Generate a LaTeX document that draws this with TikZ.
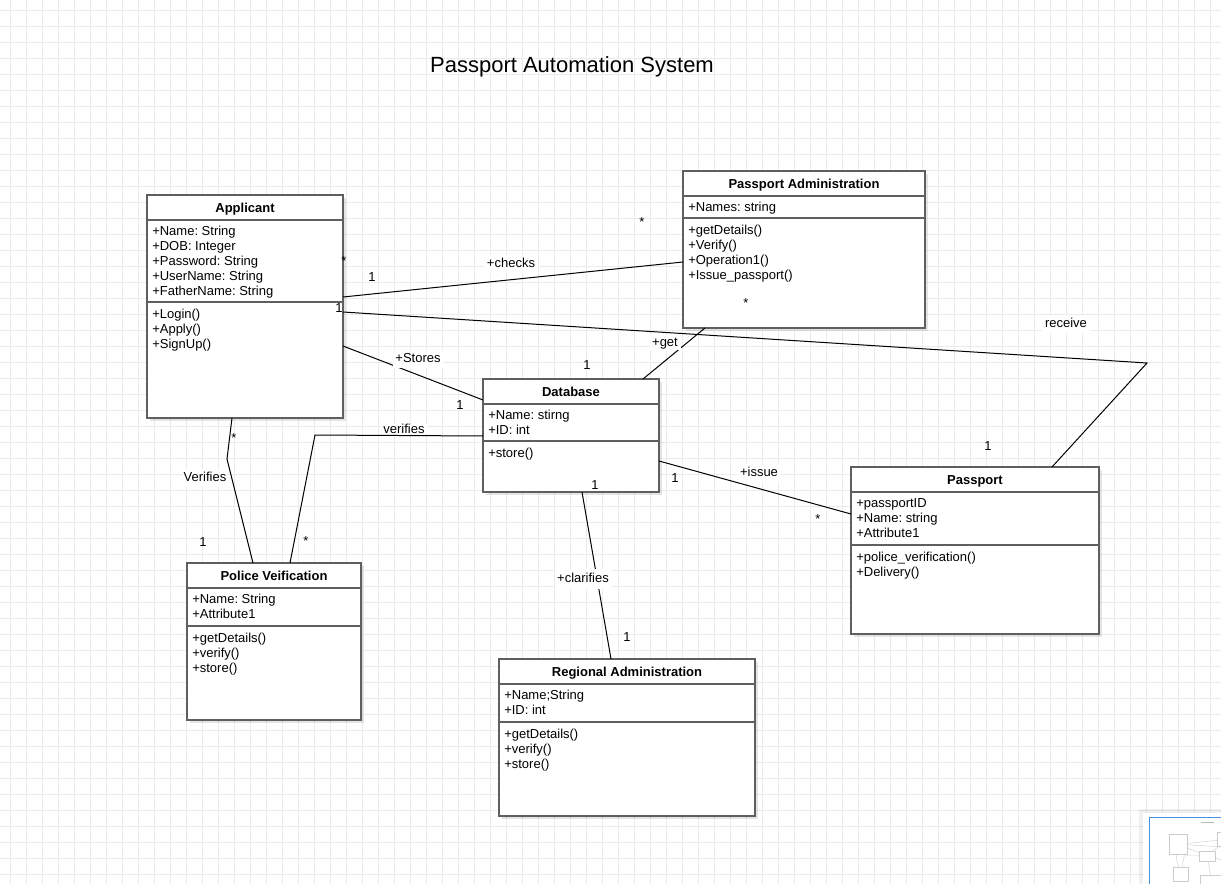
\documentclass[tikz,border=0pt]{standalone}
\usepackage{fontspec}
\setmainfont{Liberation Sans}
\usetikzlibrary{calc,positioning,shadows}

\definecolor{boxgray}{HTML}{5F5F5F}
\definecolor{gridgray}{HTML}{EBEBEB}
\definecolor{mapblue}{HTML}{4A90E2}

\begin{document}
\begin{tikzpicture}[x=0.75pt, y=-0.75pt,
  cls/.style 2 args={draw=boxgray, line width=1pt, fill=white, anchor=north west,
    inner sep=0pt, outer sep=0pt, minimum width=#1*0.75pt, minimum height=#2*0.75pt,
    drop shadow={shadow xshift=2.2pt, shadow yshift=-2.2pt, fill=black, opacity=0.1}},
  head/.style={font=\bfseries\frenchspacing\fontsize{9.75}{11.25}\selectfont, text height=7pt, text depth=2pt, inner sep=0pt},
  members/.style={anchor=north west, align=left, inner sep=0pt, font=\frenchspacing\fontsize{9.75}{11.25}\selectfont},
  sep/.style={draw=boxgray, line width=1pt},
  assoc/.style={draw=black, line width=0.75pt},
  role/.style={fill=white, anchor=base, inner xsep=2pt, inner ysep=2pt, text height=7.5pt, text depth=2pt,
    font=\fontsize{9.75}{11.25}\selectfont},
  mult/.style={anchor=base, inner sep=0pt, font=\fontsize{9.75}{11.25}\selectfont}
  ]
  \useasboundingbox (0,0) rectangle (1221,884);
  \fill[white] (0,0) rectangle (1221,884);

  % background grid
  \foreach \k in {0,...,76}
    \draw[gridgray, line width=0.9pt] (10.5+16*\k,0) -- (10.5+16*\k,884);
  \foreach \k in {0,...,55}
    \draw[gridgray, line width=0.9pt] (0,10.5+16*\k) -- (1221,10.5+16*\k);

  \node[anchor=base, font=\fontsize{16.5}{20}\selectfont] (title) at (572,72.5) {Passport Automation System};

  % Applicant
  \node[cls={196}{223}] (app) at (147,195) {};
  \node[head] (appT) at ($(app.north)+(0,14)$) {Applicant};
  \draw[sep] ($(app.north west)+(0,25)$) -- ($(app.north east)+(0,25)$);
  \draw[sep] ($(app.north west)+(0,107)$) -- ($(app.north east)+(0,107)$);
  \node[members] (appA) at ($(app.north west)+(5,31)$) {+Name: String\\+DOB: Integer\\+Password: String\\+UserName: String\\+FatherName: String};
  \node[members] (appM) at ($(app.north west)+(5,113.5)$) {+Login()\\+Apply()\\+SignUp()};

  % Passport Administration
  \node[cls={242}{157}] (padm) at (683,171) {};
  \node[head] (padmT) at ($(padm.north)+(0,14)$) {Passport Administration};
  \draw[sep] ($(padm.north west)+(0,25)$) -- ($(padm.north east)+(0,25)$);
  \draw[sep] ($(padm.north west)+(0,47)$) -- ($(padm.north east)+(0,47)$);
  \node[members] (padmA) at ($(padm.north west)+(5,31)$) {+Names: string};
  \node[members] (padmM) at ($(padm.north west)+(5,53.5)$) {+getDetails()\\+Verify()\\+Operation1()\\+Issue\_passport()};

  % Database
  \node[cls={176}{113}] (db) at (483,379) {};
  \node[head] (dbT) at ($(db.north)+(0,14)$) {Database};
  \draw[sep] ($(db.north west)+(0,25)$) -- ($(db.north east)+(0,25)$);
  \draw[sep] ($(db.north west)+(0,62)$) -- ($(db.north east)+(0,62)$);
  \node[members] (dbA) at ($(db.north west)+(5,31)$) {+Name: stirng\\+ID: int};
  \node[members] (dbM) at ($(db.north west)+(5,68.5)$) {+store()};

  % Passport
  \node[cls={248}{167}] (pass) at (851,467) {};
  \node[head] (passT) at ($(pass.north)+(0,14)$) {Passport};
  \draw[sep] ($(pass.north west)+(0,25)$) -- ($(pass.north east)+(0,25)$);
  \draw[sep] ($(pass.north west)+(0,78)$) -- ($(pass.north east)+(0,78)$);
  \node[members] (passA) at ($(pass.north west)+(5,31)$) {+passportID\\+Name: string\\+Attribute1};
  \node[members] (passM) at ($(pass.north west)+(5,84.5)$) {+police\_verification()\\+Delivery()};

  % Police Veification
  \node[cls={174}{157}] (pol) at (187,563) {};
  \node[head] (polT) at ($(pol.north)+(0,14)$) {Police Veification};
  \draw[sep] ($(pol.north west)+(0,25)$) -- ($(pol.north east)+(0,25)$);
  \draw[sep] ($(pol.north west)+(0,63)$) -- ($(pol.north east)+(0,63)$);
  \node[members] (polA) at ($(pol.north west)+(5,31)$) {+Name: String\\+Attribute1};
  \node[members] (polM) at ($(pol.north west)+(5,69.5)$) {+getDetails()\\+verify()\\+store()};

  % Regional Administration
  \node[cls={256}{157}] (reg) at (499,659) {};
  \node[head] (regT) at ($(reg.north)+(0,14)$) {Regional Administration};
  \draw[sep] ($(reg.north west)+(0,25)$) -- ($(reg.north east)+(0,25)$);
  \draw[sep] ($(reg.north west)+(0,63)$) -- ($(reg.north east)+(0,63)$);
  \node[members] (regA) at ($(reg.north west)+(5,31)$) {+Name;String\\+ID: int};
  \node[members] (regM) at ($(reg.north west)+(5,69.5)$) {+getDetails()\\+verify()\\+store()};

  % bends
  \coordinate (rcv) at (1147,363);
  \coordinate (vfy) at (315,435);
  \coordinate (vfyA) at (227,459);

  % associations
  \draw[assoc] ($(app.north east)+(0,102)$) -- ($(padm.north west)+(0,91)$);
  \draw[assoc] ($(app.north east)+(0,117)$) -- (rcv) -- ($(pass.north west)+(201,0)$);
  \draw[assoc] ($(app.north east)+(0,151)$) -- ($(db.north west)+(0,21)$);
  \draw[assoc] ($(padm.south west)+(22,0)$) -- ($(db.north west)+(160,0)$);
  \draw[assoc] ($(db.north west)+(0,57)$) -- (vfy) -- ($(pol.north west)+(103,0)$);
  \draw[assoc] ($(app.south west)+(85,0)$) -- (vfyA) -- ($(pol.north west)+(66,0)$);
  \draw[assoc] ($(db.north east)+(0,82)$) -- ($(pass.north west)+(0,47)$);
  \draw[assoc] ($(db.south west)+(99,0)$) -- ($(reg.north west)+(112,0)$);

  % association names
  \node[role] (lChecks) at (511,268) {+checks};
  \node[role] (lReceive) at (1066,327.5) {receive};
  \node[role] (lStores) at (418,362.5) {+Stores};
  \node[role, inner ysep=0.8pt] (lGet) at (665,346) {+get};
  \node[role, inner ysep=0pt, text depth=0pt] (lVerifies) at (404,433.5) {verifies};
  \node[role, inner xsep=0.5pt] (lVerifiesA) at (205,481.5) {Verifies};
  \node[role] (lIssue) at (759,476.5) {+issue};
  \node[role, inner ysep=3pt] (lClarifies) at (583,582.5) {+clarifies};

  % multiplicities
  \node[mult] (m1) at (344,265.5) {*};
  \node[mult] (m2) at (372,281.7) {1};
  \node[mult] (m3) at (642,226.5) {*};
  \node[mult] (m4) at (339,312.7) {1};
  \node[mult] (m5) at (746,307.5) {*};
  \node[mult] (m6) at (988,450) {1};
  \node[mult] (m7) at (460,409.7) {1};
  \node[mult] (m8) at (587,369.7) {1};
  \node[mult] (m9) at (234,442.5) {*};
  \node[mult] (m10) at (203,546.4) {1};
  \node[mult] (m11) at (306,545.5) {*};
  \node[mult] (m12) at (675,482.7) {1};
  \node[mult] (m13) at (818,523.5) {*};
  \node[mult] (m14) at (595,489.7) {1};
  \node[mult] (m15) at (627,641.4) {1};

  % outline view
  \fill[black, opacity=0.06] (1139,809) rectangle (1230,890);
  \fill[white] (1143,813) rectangle (1230,890);
  \draw[mapblue, line width=0.9pt] (1149.5,817.5) rectangle (1235,895);
  \begin{scope}[shift={(1156.2,817)}, scale=0.089, draw=gray!40, line width=0.3pt]
    \draw[gray!55, line width=0.6pt] (500,66) -- (645,66);
    \draw (147,195) rectangle (343,418);
    \draw (683,171) rectangle (925,328);
    \draw (483,379) rectangle (659,492);
    \draw (851,467) rectangle (1099,634);
    \draw (187,563) rectangle (361,720);
    \draw (499,659) rectangle (755,816);
    \draw (343,297) -- (683,262);
    \draw (343,312) -- (1147,363) -- (1052,467);
    \draw (343,346) -- (483,400);
    \draw (705,328) -- (643,379);
    \draw (483,436) -- (315,435) -- (290,563);
    \draw (232,418) -- (227,459) -- (253,563);
    \draw (659,461) -- (851,514);
    \draw (582,492) -- (611,659);
  \end{scope}
\end{tikzpicture}
\end{document}
